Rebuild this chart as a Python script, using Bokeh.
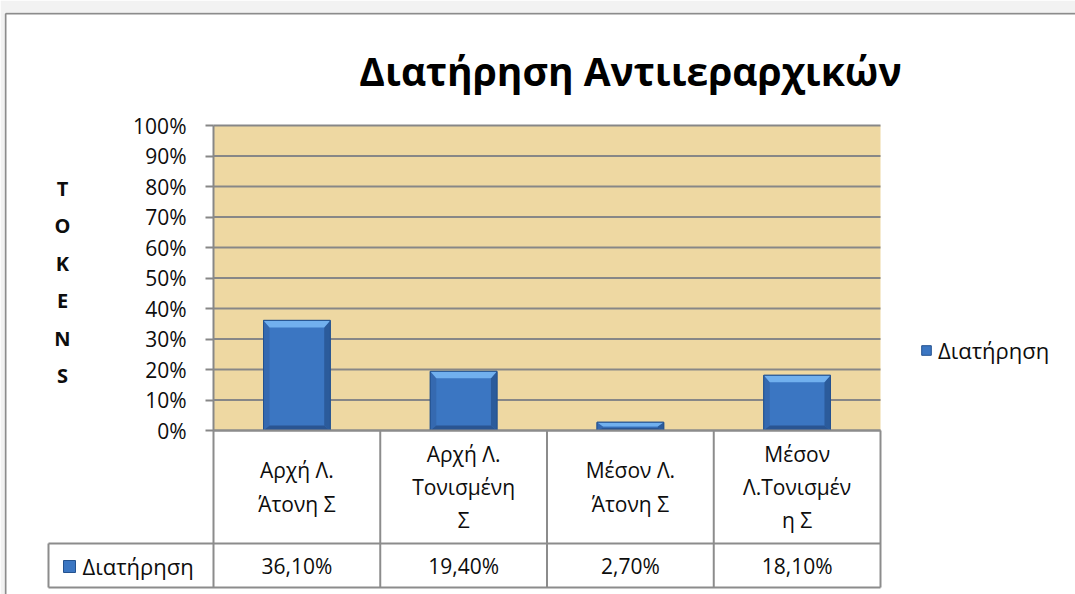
from bokeh.plotting import figure
from bokeh.models import (Range1d, LinearAxis, FixedTicker, NumeralTickFormatter,
                          Legend, LegendItem)
from bokeh.core.properties import value
from bokeh.embed import file_html
from bokeh.resources import INLINE

# ---------------- data ----------------
categories = ["Αρχή Λ. Άτονη Σ", "Αρχή Λ. Τονισμένη Σ", "Μέσον Λ. Άτονη Σ", "Μέσον Λ.Τονισμένη Σ"]
category_labels = ["Αρχή Λ.\nΆτονη Σ", "Αρχή Λ.\nΤονισμένη\nΣ", "Μέσον Λ.\nΆτονη Σ", "Μέσον\nΛ.Τονισμέν\nη Σ"]
series_name = "Διατήρηση"
values = [0.361, 0.194, 0.027, 0.181]
y_ticks = [0.0, 0.1, 0.2, 0.3, 0.4, 0.5, 0.6, 0.7, 0.8, 0.9, 1.0]
title_text = "Διατήρηση Αντιιεραρχικών"
y_label_letters = ["T", "O", "K", "E", "N", "S"]

FONT = "Open Sans"

# ---------------- layout helpers (page px -> data) ----------------
PX_LEFT, PX_RIGHT = 213.0, 880.0      # plot area horizontal extent on page
PX_ZERO, PX_FULL = 430.0, 125.0       # y of 0% and 100% on page
n = len(categories)
XU = (PX_RIGHT - PX_LEFT) / n          # px per category
YU = (PX_ZERO - PX_FULL)               # px per 100%


def dx(px):
    return -0.5 + (px - PX_LEFT) / XU


def dy(py):
    return (PX_ZERO - py) / YU


W, H = 1075, 594
BL, BT = 4, 12
p = figure(width=W, height=H, output_backend="svg", toolbar_location=None,
           x_range=Range1d(dx(BL), dx(W)), y_range=Range1d(dy(H), dy(BT)),
           x_axis_type=None, y_axis_type=None,
           min_border_left=BL, min_border_right=0, min_border_bottom=0, min_border_top=BT)
p.border_fill_color = "#f2f2f2"
p.background_fill_color = "white"
p.outline_line_color = None

# chart border (left and top)
p.segment(x0=[dx(5), dx(5)], x1=[dx(5), dx(W + 5)], y0=[dy(13), dy(13)], y1=[dy(H + 5), dy(13)],
          line_color="#8c8c8c", line_width=2)

# plot area background (papyrus-like tan)
p.quad(left=[-0.5], right=[n - 0.5], bottom=[0], top=[1], fill_color="#eed8a2", line_color=None)

# gridlines
grid_color = "#878787"
p.segment(x0=[-0.5] * len(y_ticks), x1=[n - 0.5] * len(y_ticks), y0=y_ticks, y1=y_ticks,
          line_color=grid_color, line_width=2)

# bars
xs = list(range(n))
bw = 0.40
bars = p.vbar(x=xs, top=values, width=bw, bottom=0, fill_color="#3b76c2",
              line_color="#24528f", line_width=1)

# bevel facets
bx = 6.0 / XU
top_ps_x, top_ps_y, r_x, r_y, l_x, l_y, b_x, b_y = [], [], [], [], [], [], [], []
for x, v in zip(xs, values):
    x0, x1 = x - bw / 2, x + bw / 2
    byt = min(7.0 / YU, v / 2)
    byb = min(5.0 / YU, v / 3)
    top_ps_x.append([x0, x1, x1 - bx, x0 + bx]); top_ps_y.append([v, v, v - byt, v - byt])
    r_x.append([x1, x1, x1 - bx, x1 - bx]); r_y.append([v, 0, byb, v - byt])
    l_x.append([x0, x0 + bx, x0 + bx, x0]); l_y.append([v, v - byt, byb, 0])
    b_x.append([x0, x0 + bx, x1 - bx, x1]); b_y.append([0, byb, byb, 0])
p.patches(l_x, l_y, fill_color="#3569b0", line_color=None)
p.patches(r_x, r_y, fill_color="#2b5b9b", line_color=None)
p.patches(b_x, b_y, fill_color="#2a5592", line_color=None)
p.patches(top_ps_x, top_ps_y, fill_color="#71b0ee", line_color=None)
p.vbar(x=xs, top=values, width=bw, bottom=0, fill_color=None, line_color="#24528f", line_width=1)

# y axis
yaxis = LinearAxis(fixed_location=-0.5, bounds=(0, 1), ticker=FixedTicker(ticks=y_ticks),
                   formatter=NumeralTickFormatter(format="0%"))
yaxis.axis_line_color = grid_color
yaxis.axis_line_width = 2
yaxis.major_tick_line_color = grid_color
yaxis.major_tick_line_width = 2
yaxis.major_tick_out = 8
yaxis.major_tick_in = 0
yaxis.minor_tick_line_color = None
yaxis.major_label_text_font = FONT
yaxis.major_label_text_font_size = "21px"
yaxis.major_label_text_color = "#0d0d0d"
yaxis.major_label_standoff = 19
p.add_layout(yaxis, "left")

# vertical axis title: T O K E N S
ly0 = dy(188)
lstep = 37.4 / YU
p.text(x=[dx(62)] * len(y_label_letters), y=[ly0 - i * lstep for i in range(len(y_label_letters))],
       text=y_label_letters, text_font=value(FONT), text_font_style="bold", text_font_size="20px",
       text_align="center", text_baseline="middle", text_color="#0d0d0d")

# title
p.text(x=[dx(630)], y=[dy(70)], text=[title_text], text_font=value(FONT), text_font_style="bold",
       text_font_size="39px", text_align="center", text_baseline="middle", text_color="#000000")

# data table
tcol = "#8c8c8c"
row_div = dy(543)
tbottom = dy(587)
key_left = dx(48)
bounds_x = [i - 0.5 for i in range(n + 1)]
p.segment(x0=bounds_x, x1=bounds_x, y0=[tbottom] * len(bounds_x), y1=[0] * len(bounds_x),
          line_color=tcol, line_width=2)
p.segment(x0=[key_left, key_left, key_left, -0.5], x1=[n - 0.5, n - 0.5, key_left, n - 0.5],
          y0=[row_div, tbottom, row_div, 0], y1=[row_div, tbottom, tbottom, 0],
          line_color=tcol, line_width=2)

p.text(x=xs, y=[(0 + row_div) / 2] * n, text=category_labels, text_font=value(FONT),
       text_font_size="21px", text_align="center", text_baseline="middle",
       text_line_height=1.18, text_color="#0d0d0d")
value_labels = [("%.2f" % (v * 100)).replace(".", ",") + "%" for v in values]
p.text(x=xs, y=[(row_div + tbottom) / 2] * n, text=value_labels, text_font=value(FONT),
       text_font_size="21px", text_align="center", text_baseline="middle", text_color="#0d0d0d")

# table legend key
p.scatter(x=[dx(69)], y=[dy(566)], marker="square", size=12, fill_color="#3b76c2",
          line_color="#24528f")
p.text(x=[dx(82)], y=[dy(565)], text=[series_name], text_font=value(FONT), text_font_size="22px",
       text_align="left", text_baseline="middle", text_color="#0d0d0d")

# legend
legend = Legend(items=[LegendItem(label=series_name, renderers=[bars])],
                location=(920 - BL, H - 365))
legend.border_line_color = None
legend.background_fill_alpha = 0
legend.label_text_font = FONT
legend.label_text_font_size = "22px"
legend.label_text_color = "#0d0d0d"
legend.glyph_width = 12
legend.glyph_height = 12
legend.label_height = 26
legend.padding = 0
legend.margin = 0
legend.label_standoff = 6
p.add_layout(legend, "center")

html = file_html(p, INLINE, title="Διατήρηση Αντιιεραρχικών")
html = html.replace("<body>", '<body style="background-color:#f2f2f2;">', 1)
open("out.html", "w").write(html)
